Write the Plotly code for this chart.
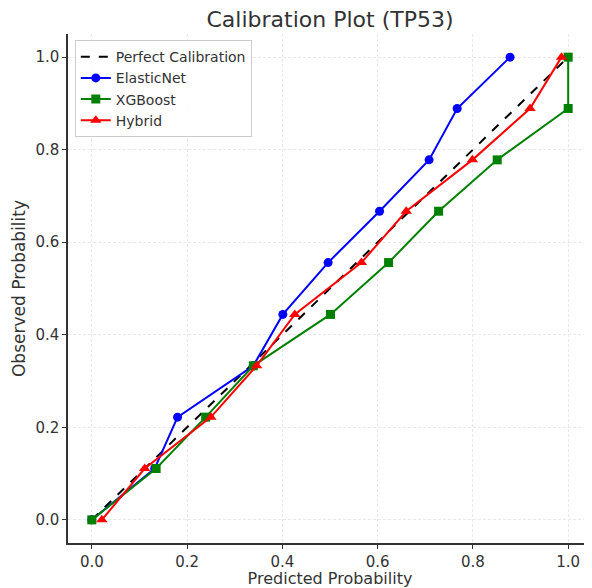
import plotly.graph_objects as go

perfect_x = [0.0, 1.0]
perfect_y = [0.0, 1.0]

elastic_x = [0.0, 0.132, 0.180, 0.339, 0.401, 0.496, 0.604, 0.708, 0.767, 0.878]
elastic_y = [0.0, 0.111, 0.222, 0.333, 0.444, 0.556, 0.667, 0.778, 0.889, 1.0]

xgb_x = [0.0, 0.135, 0.239, 0.339, 0.501, 0.623, 0.728, 0.851, 1.0, 1.0]
xgb_y = [0.0, 0.111, 0.222, 0.333, 0.444, 0.556, 0.667, 0.778, 0.889, 1.0]

hybrid_x = [0.021, 0.111, 0.250, 0.346, 0.426, 0.566, 0.660, 0.799, 0.920, 0.986]
hybrid_y = [0.0, 0.111, 0.222, 0.333, 0.444, 0.556, 0.667, 0.778, 0.889, 1.0]

tick_vals = [0.0, 0.2, 0.4, 0.6, 0.8, 1.0]
tick_text = ["0.0", "0.2", "0.4", "0.6", "0.8", "1.0"]

FONT = "DejaVu Sans"
TXT = "#333333"

fig = go.Figure()
fig.add_trace(go.Scatter(x=perfect_x, y=perfect_y, mode="lines", name="Perfect Calibration",
                         line=dict(color="black", width=2, dash="dash")))
fig.add_trace(go.Scatter(x=elastic_x, y=elastic_y, mode="lines+markers", name="ElasticNet",
                         line=dict(color="blue", width=2),
                         marker=dict(symbol="circle", size=9, color="blue")))
fig.add_trace(go.Scatter(x=xgb_x, y=xgb_y, mode="lines+markers", name="XGBoost",
                         line=dict(color="green", width=2),
                         marker=dict(symbol="square", size=9, color="green")))
fig.add_trace(go.Scatter(x=hybrid_x, y=hybrid_y, mode="lines+markers", name="Hybrid",
                         line=dict(color="red", width=2),
                         marker=dict(symbol="triangle-up", size=10, color="red")))

axis_common = dict(
    tickvals=tick_vals, ticktext=tick_text,
    showline=True, linecolor="#333333", linewidth=1.5, mirror=False,
    ticks="outside", ticklen=4, tickwidth=1.2, tickcolor="#333333",
    showgrid=True, gridcolor="#e8e8e8", gridwidth=1, griddash="3px,2px",
    zeroline=False, automargin=False,
    tickfont=dict(family=FONT, size=15, color=TXT),
)

fig.update_layout(
    width=584, height=580,
    margin=dict(l=60, r=0, t=26, b=45),
    paper_bgcolor="white", plot_bgcolor="white",
    font=dict(family=FONT, color=TXT),
    title=dict(text="Calibration Plot (TP53)", x=0.5, xref="paper", y=0.981, yref="container",
               yanchor="middle", font=dict(family=FONT, size=22, color=TXT)),
    xaxis=dict(range=[-0.05, 1.05],
               title=dict(text="Predicted Probability", font=dict(family=FONT, size=16, color=TXT), standoff=6),
               **axis_common),
    yaxis=dict(range=[-0.05, 1.05],
               title=dict(text="Observed Probability", font=dict(family=FONT, size=17, color=TXT), standoff=5),
               **axis_common),
    legend=dict(x=0.013, y=0.988, xanchor="left", yanchor="top",
                bgcolor="rgba(255,255,255,0.85)", bordercolor="#cccccc", borderwidth=1,
                font=dict(family=FONT, size=14, color=TXT), tracegroupgap=0,
                itemwidth=30),
    showlegend=True,
)

fig.write_html("out.html")
